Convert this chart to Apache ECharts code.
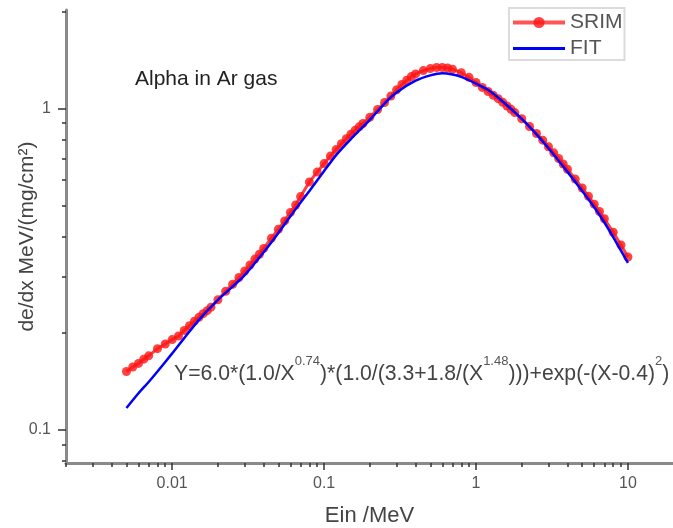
<!DOCTYPE html>
<html>
<head>
<meta charset="utf-8">
<script src="https://cdn.jsdelivr.net/npm/echarts@6/dist/echarts.min.js"></script>
<style>html,body{margin:0;padding:0;background:#fff;}#c{width:673px;height:528px;}</style>
</head>
<body>
<div id="c"></div>
<script>
// SRIM energies (MeV) and stopping power (MeV/(mg/cm2))
const srimE = [0.005,0.0055,0.006,0.0065,0.007,0.008,0.009,0.010,0.011,0.012,0.013,0.014,0.015,0.016,0.017,0.018,
  0.020,0.0225,0.025,0.0275,0.030,0.0325,0.035,0.0375,0.040,0.045,0.050,0.055,0.060,0.065,0.070,0.080,0.090,
  0.10,0.11,0.12,0.13,0.14,0.15,0.16,0.17,0.18,0.20,0.225,0.25,0.275,0.30,0.325,0.35,0.375,0.40,0.45,0.50,0.55,0.60,0.65,0.70,0.80,0.90,
  1.0,1.1,1.2,1.3,1.4,1.5,1.6,1.7,1.8,2.0,2.25,2.5,2.75,3.0,3.25,3.5,3.75,4.0,4.5,5.0,5.5,6.0,6.5,7.0,8.0,9.0,10];
const srimS = [0.152,0.157,0.161,0.166,0.170,0.179,0.185,0.191,0.196,0.204,0.211,0.218,0.224,0.230,0.235,0.241,
  0.254,0.270,0.284,0.298,0.312,0.326,0.340,0.352,0.367,0.395,0.421,0.447,0.475,0.501,0.532,0.591,0.634,
  0.674,0.711,0.745,0.777,0.805,0.832,0.855,0.877,0.898,0.940,0.993,1.044,1.093,1.143,1.188,1.224,1.257,1.281,1.312,1.331,1.341,1.341,1.336,1.325,1.292,1.250,
  1.205,1.163,1.129,1.099,1.073,1.045,1.018,0.994,0.971,0.929,0.879,0.836,0.797,0.760,0.728,0.699,0.672,0.647,0.603,0.566,0.533,0.504,0.478,0.454,0.412,0.376,0.345];
// FIT curve
const fitE = [0.005,0.006,0.007,0.008,0.01,0.012,0.015,0.02,0.025,0.03,0.04,0.05,0.06,0.07,0.08,0.1,0.12,0.15,0.2,0.25,0.3,0.4,0.5,0.6,0.7,0.8,1.0,1.2,1.5,2.0,2.5,3.0,4.0,5.0,6.0,7.0,8.0,10];
const fitS = [0.117,0.130,0.141,0.152,0.173,0.193,0.220,0.254,0.279,0.303,0.357,0.410,0.462,0.510,0.554,0.639,0.716,0.803,0.922,1.036,1.121,1.220,1.268,1.287,1.276,1.254,1.195,1.143,1.051,0.928,0.831,0.752,0.635,0.554,0.493,0.442,0.398,0.331];

// ticks
const xMajorTicks = [0.01, 0.1, 1, 10];
const xMinorTicks = [0.002,0.003,0.004,0.005,0.006,0.007,0.008,0.009,0.02,0.03,0.04,0.05,0.06,0.07,0.08,0.09,
  0.2,0.3,0.4,0.5,0.6,0.7,0.8,0.9,2,3,4,5,6,7,8,9];
const yMajorTicks = [0.1, 1];
const yMinorTicks = [0.08,0.09,0.2,0.3,0.4,0.5,0.6,0.7,0.8,0.9,2];

const FONT = 'Liberation Sans, Arial, sans-serif';
const xMin = 0.002, xMax = 19.8, yMin = 0.0789, yMax = 2.025;

const chart = echarts.init(document.getElementById('c'), null, {renderer: 'canvas'});
const fmt = v => String(+(+v).toPrecision(3));

const baseX = {
  type: 'log', min: xMin, max: xMax, position: 'bottom', gridIndex: 0,
  splitLine: {show: false}, minorTick: {show: false}, minorSplitLine: {show: false}
};
const baseY = {
  type: 'log', min: yMin, max: yMax, position: 'left', gridIndex: 0,
  splitLine: {show: false}, minorTick: {show: false}, minorSplitLine: {show: false}
};

chart.setOption({
  animation: false,
  backgroundColor: '#fff',
  grid: {left: 66, top: 10, width: 607, height: 453, containLabel: false, outerBoundsMode: 'none'},
  xAxis: [
    Object.assign({}, baseX, {
      name: 'Ein /MeV', nameLocation: 'middle', nameGap: 42, nameMoveOverlap: false,
      nameTextStyle: {fontFamily: FONT, fontSize: 22, color: '#444'},
      axisLine: {show: true, onZero: false, lineStyle: {color: '#8a8a8a', width: 3}},
      axisTick: {show: true, inside: false, length: 7, customValues: xMajorTicks, lineStyle: {color: '#333', width: 1.5}},
      axisLabel: {show: true, margin: 13, customValues: xMajorTicks, formatter: fmt, fontFamily: FONT, fontSize: 16, color: '#555'}
    }),
    Object.assign({}, baseX, {
      axisLine: {show: false, onZero: false},
      axisTick: {show: true, inside: false, length: 4, customValues: xMinorTicks, lineStyle: {color: '#333', width: 1.5}},
      axisLabel: {show: false}
    })
  ],
  yAxis: [
    Object.assign({}, baseY, {
      name: 'de/dx MeV/(mg/cm²)', nameLocation: 'middle', nameGap: 28, nameRotate: 90, nameMoveOverlap: false,
      nameTextStyle: {fontFamily: FONT, fontSize: 21, color: '#444'},
      axisLine: {show: true, lineStyle: {color: '#8a8a8a', width: 3}},
      axisTick: {show: true, inside: false, length: 8, customValues: yMajorTicks, lineStyle: {color: '#333', width: 1.5}},
      axisLabel: {show: true, margin: 15, customValues: yMajorTicks, formatter: fmt, fontFamily: FONT, fontSize: 16, color: '#555'}
    }),
    Object.assign({}, baseY, {
      axisLine: {show: false},
      axisTick: {show: true, inside: false, length: 4, customValues: yMinorTicks, lineStyle: {color: '#333', width: 1.5}},
      axisLabel: {show: false}
    })
  ],
  legend: {
    data: [
      {name: 'SRIM', lineStyle: {width: 4, color: '#ff5555'}},
      {name: 'FIT', itemStyle: {opacity: 0}, lineStyle: {width: 3}}
    ],
    orient: 'vertical', left: 509, top: 8,
    itemWidth: 52, itemHeight: 14, itemGap: 5, padding: [4, 2, 1, 2],
    borderColor: '#dcdcdc', borderWidth: 2, backgroundColor: '#fff',
    textStyle: {fontFamily: FONT, fontSize: 21, color: '#555'}
  },
  series: [
    {
      name: 'SRIM', type: 'line', xAxisIndex: 0, yAxisIndex: 0,
      data: srimE.map((e, i) => [e, srimS[i]]),
      symbol: 'circle', symbolSize: 9, showSymbol: true,
      lineStyle: {color: '#ff4040', width: 3},
      itemStyle: {color: 'rgba(255,20,20,0.8)', borderWidth: 0},
      z: 2
    },
    {
      name: 'FIT', type: 'line', xAxisIndex: 0, yAxisIndex: 0,
      data: fitE.map((e, i) => [e, fitS[i]]),
      showSymbol: false, symbol: 'none', smooth: 0.2,
      lineStyle: {color: '#0000ff', width: 2.5},
      itemStyle: {color: '#0000ff'},
      z: 3
    }
  ],
  graphic: [
    {
      type: 'text', left: 135, top: 69, z: 10,
      style: {text: 'Alpha in Ar gas', font: '21px ' + FONT, fill: '#222'}
    },
    {
      type: 'text', x: 174, y: 374, z: 10,
      style: {
        text: '{n|Y=6.0*(1.0/X}{s|0.74}{n|)*(1.0/(3.3+1.8/(X}{s|1.48}{n|)))+exp(-(X-0.4)}{s|2}{n|)}',
        verticalAlign: 'middle',
        rich: {
          n: {fontFamily: FONT, fontSize: 21.2, lineHeight: 38, fill: '#444', color: '#444'},
          s: {fontFamily: FONT, fontSize: 13, lineHeight: 13, verticalAlign: 'top', fill: '#555', color: '#555'}
        }
      }
    }
  ]
});
</script>
</body>
</html>
